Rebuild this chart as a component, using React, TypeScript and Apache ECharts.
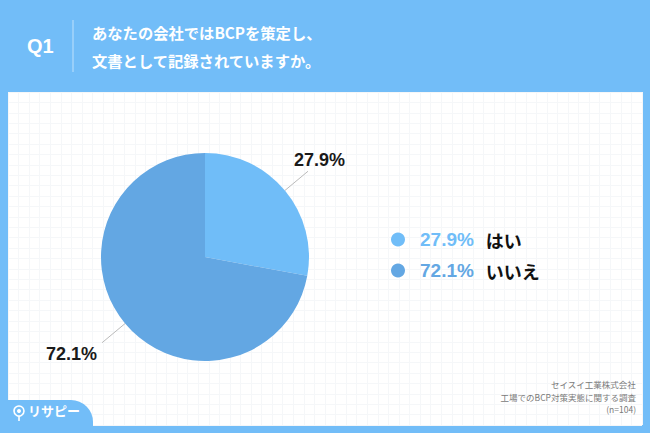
import React, { useEffect, useRef } from "react";
import * as echarts from "echarts";

const categories = ["はい", "いいえ"];
const values = [27.9, 72.1];
const colors = ["#70BDF8", "#63A7E3"];
const titleLines = ["あなたの会社ではBCPを策定し、", "文書として記録されていますか。"];
const footerLines = ["セイスイ工業株式会社", "工場でのBCP対策実態に関する調査", "(n=104)"];

const JP = '"Noto Sans CJK JP", "Noto Sans", sans-serif';
const NUM = '"Liberation Sans", Arial, sans-serif';

export default function App() {
  const ref = useRef<HTMLDivElement>(null);
  useEffect(() => {
    document.body.style.margin = "0";
    const chart = echarts.init(ref.current!, null, { renderer: "svg" });
    const bg = "#72BDF8";
    chart.setOption({
      animation: false,
      backgroundColor: bg,
      grid: { left: 8, right: 8, top: 92, bottom: 8, show: true, backgroundColor: "#ffffff", borderWidth: 0, z: 0 },
      xAxis: {
        type: "value", min: 0, max: 60, interval: 1,
        axisLine: { show: false }, axisTick: { show: false }, axisLabel: { show: false },
        splitLine: { show: true, lineStyle: { color: "#f5f7f9", width: 1 } },
      },
      yAxis: {
        type: "value", min: 0, max: 32, interval: 1,
        axisLine: { show: false }, axisTick: { show: false }, axisLabel: { show: false },
        splitLine: { show: true, lineStyle: { color: "#f5f7f9", width: 1 } },
      },
      legend: {
        orient: "vertical",
        left: 386,
        top: 225,
        itemGap: 12,
        itemWidth: 14,
        itemHeight: 14,
        icon: "circle",
        data: categories,
        formatter: (name: string) => {
          const i = categories.indexOf(name);
          return `{p${i}|${values[i].toFixed(1)}%}{n|${name}}`;
        },
        textStyle: {
          rich: {
            p0: { color: colors[0], fontSize: 19, fontWeight: "bold", fontFamily: NUM, padding: [0, 12, 0, 10] },
            p1: { color: colors[1], fontSize: 19, fontWeight: "bold", fontFamily: NUM, padding: [0, 12, 0, 10] },
            n: { color: "#111111", fontSize: 18, fontWeight: "bold", fontFamily: JP },
          },
        },
      },
      series: [
        {
          type: "pie",
          center: [205, 257],
          radius: 104,
          startAngle: 90,
          clockwise: true,
          z: 5,
          data: categories.map((c, i) => ({ name: c, value: values[i], itemStyle: { color: colors[i] } })),
          label: {
            show: true,
            position: "outside",
            formatter: (p: any) => `${values[p.dataIndex].toFixed(1)}%`,
            color: "#1a1a1a",
            fontSize: 18,
            fontWeight: "bold",
            fontFamily: NUM,
          },
          labelLine: { show: true, length: 30, length2: 0, lineStyle: { color: "#bbbbbb", width: 1 } },
          labelLayout: (p: any) => {
            if (p.dataIndex === 0) return { dx: -19, dy: -11, labelLinePoints: p.labelLinePoints };
            return { dx: 0, dy: 11, labelLinePoints: p.labelLinePoints };
          },
          emphasis: { disabled: true },
        },
      ],
      graphic: [
        { type: "text", left: 27, top: 36, z: 10, style: { text: "Q1", fill: "#ffffff", fontSize: 20, fontWeight: "bold", fontFamily: NUM } },
        { type: "line", z: 10, shape: { x1: 73, y1: 20, x2: 73, y2: 72 }, style: { stroke: "rgba(255,255,255,0.55)", lineWidth: 1 } },
        ...titleLines.map((t, i) => ({
          type: "text", left: 92, top: 24 + i * 28, z: 10,
          style: { text: t, fill: "#ffffff", fontSize: 15.3, fontWeight: "bold", fontFamily: JP },
        })),
        ...footerLines.map((t, i) => ({
          type: "text", right: 14, top: 380 + i * 12.5, z: 10,
          style: { text: t, fill: "#7a7a7a", fontSize: 8.5, fontFamily: JP, align: "right" },
        })),
        { type: "rect", z: 10, shape: { x: 0, y: 400, width: 93, height: 33, r: [0, 22, 0, 0] }, style: { fill: bg } },
        { type: "circle", z: 11, shape: { cx: 19, cy: 411, r: 5 }, style: { fill: "none", stroke: "#ffffff", lineWidth: 1.6 } },
        { type: "circle", z: 11, shape: { cx: 19, cy: 411, r: 2 }, style: { fill: "#ffffff" } },
        { type: "line", z: 11, shape: { x1: 19, y1: 416, x2: 19, y2: 421 }, style: { stroke: "#ffffff", lineWidth: 1.6 } },
        { type: "text", left: 28, top: 404, z: 11, style: { text: "リサピー", fill: "#ffffff", fontSize: 13, fontWeight: "bold", fontFamily: JP } },
      ],
    });
    return () => chart.dispose();
  }, []);
  return <div ref={ref} style={{ width: 650, height: 433 }} />;
}
